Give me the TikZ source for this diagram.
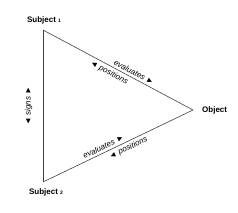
\documentclass[tikz,border=0pt]{standalone}
\usepackage{fontspec}
\setmainfont{Liberation Sans}
\newcommand{\subidx}[1]{{\fontsize{5}{6}\selectfont #1}}
\begin{document}

\begin{tikzpicture}[
    x=1pt, y=1pt,
    party/.style={font=\fontsize{8}{9}\selectfont\bfseries, inner sep=1pt},
    side/.style={draw=black!75, line width=0.6pt},
    note/.style={font=\fontsize{8}{9}\selectfont\itshape, inner sep=2.5pt, sloped},
]

    \useasboundingbox (0,0) rectangle (238,212);

    \coordinate (s1) at (43,182);
    \coordinate (s2) at (43,30);
    \coordinate (obj) at (193,102);

    \node[party] (subj1) at (44,192) {Subject \subidx{1}};
    \node[party] (subj2) at (46,20) {Subject \subidx{2}};
    \node[party, anchor=west] (object) at (201,102) {Object};

    \draw[side] (s1) -- node[note, pos=0.59, above] {evaluates ►}
        node[note, pos=0.46, below] {◄ positions} (obj);
    \draw[side] (s2) -- node[note, pos=0.42, above] {evaluates ►}
        node[note, pos=0.55, below] {◄ positions} (obj);
    \draw[side] (s2) -- node[note, pos=0.5, above=8pt] {◄ signs ►} (s1);

\end{tikzpicture}

\end{document}
